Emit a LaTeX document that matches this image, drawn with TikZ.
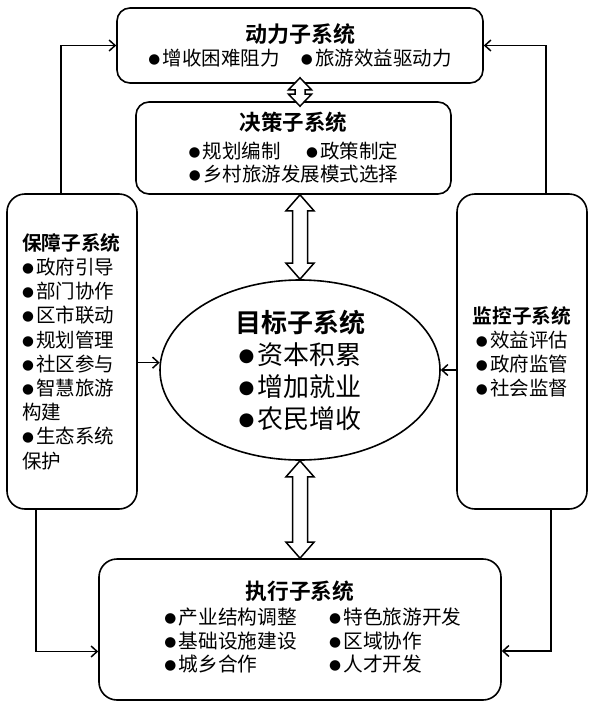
\documentclass[tikz,border=0pt]{standalone}
\usepackage{fontspec}
\setmainfont{Noto Sans CJK SC}[BoldFont={Noto Sans CJK SC Bold}]
\newfontfamily\dotfont{DejaVu Sans}
\usepackage{graphicx}
\usepackage{tikz}
\usetikzlibrary{
  arrows.meta,
  calc,
  shapes.geometric
}
\newcommand{\bul}{\raisebox{0.1em}{\dotfont\scalebox{0.7}{●}}\hspace{0.12em}}
\newcommand{\ttl}[2]{{\bfseries\fontsize{#1}{24}\selectfont #2}}
% hollow two-headed arrow between two points on one vertical
\newcommand{\dblarrow}[5]{%
  \draw[hollow] let \p1=(#1), \p2=(#2) in
    (\x1,\y1) -- (\x1+#4,\y1-#3) -- (\x1+#5,\y1-#3) -- (\x1+#5,\y2+#3)
    -- (\x1+#4,\y2+#3) -- (\x1,\y2) -- (\x1-#4,\y2+#3) -- (\x1-#5,\y2+#3)
    -- (\x1-#5,\y1-#3) -- (\x1-#4,\y1-#3) -- cycle;}

\begin{document}
\begin{tikzpicture}[
  x=1pt,y=-1pt,
  sysbox/.style={draw,line width=1.6pt,rounded corners=13pt,inner sep=0pt,
                 align=center,font=\fontsize{19.5}{23.5}\selectfont},
  sidebox/.style={sysbox,rounded corners=18pt},
  goal/.style={draw,ellipse,line width=1.6pt,inner sep=0pt,minimum width=280pt,
               minimum height=180pt,align=center,font=\fontsize{26}{32}\selectfont},
  arr/.style={-{Straight Barb[length=6pt,width=11pt]},line width=1.5pt},
  hollow/.style={draw,fill=white,line width=1.5pt,line join=miter},
]
\useasboundingbox (0,0) rectangle (593,704);

\node[sysbox,minimum width=366pt,minimum height=75pt] (dl) at (300,45.5)
  {\ttl{22}{动力子系统}\\\bul 增收困难阻力\hspace{1.1em}\bul 旅游效益驱动力};
\node[sysbox,minimum width=315pt,minimum height=92pt] (jc) at (293.5,148)
  {\ttl{21.5}{决策子系统}\\[4pt]\bul 规划编制\hspace{1.3em}\bul 政策制定\\\bul 乡村旅游发展模式选择};
\node[sidebox,minimum width=130pt,minimum height=315pt,align=left,text width=100pt,
      font=\fontsize{19.5}{24.2}\selectfont] (bz) at (72,351.5)
  {\ttl{19.7}{保障子系统}\\\bul 政府引导\\\bul 部门协作\\\bul 区市联动\\\bul 规划管理\\
   \bul 社区参与\\\bul 智慧旅游\\构建\\\bul 生态系统\\保护};
\node[sidebox,minimum width=130pt,minimum height=315pt,
      font=\fontsize{19.5}{24}\selectfont] (jk) at (522,351.5)
  {\ttl{19.7}{监控子系统}\\\bul 效益评估\\\bul 政府监管\\\bul 社会监督};
\node[goal] (mb) at (300,370)
  {\ttl{26}{目标子系统}\\\bul 资本积累\\\bul 增加就业\\\bul 农民增收};
\node[sidebox,minimum width=402pt,minimum height=141pt,
      font=\fontsize{19.7}{22.5}\selectfont] (zx) at (300,629.5)
  {\ttl{21.7}{执行子系统}\\[6pt]\hspace*{26pt}\begin{tabular}{@{}l@{\hspace{32pt}}l@{}}
   \bul 产业结构调整 & \bul 特色旅游开发\\
   \bul 基础设施建设 & \bul 区域协作\\
   \bul 城乡合作     & \bul 人才开发
   \end{tabular}};

\draw[arr] ([xshift=55pt]bz.north west) |- (dl.west);
\draw[arr] ([xshift=-42pt]jk.north east) |- (dl.east);
\draw[arr] ([xshift=30pt]bz.south west) |- ([yshift=-22pt]zx.west);
\draw[arr] ([xshift=-37pt]jk.south east) |- ([yshift=-21.5pt]zx.east);
\draw[arr] (bz.east |- mb.177) -- (mb.177);
\draw[arr] (jk.west |- mb.east) -- (mb.east);

\dblarrow{$(dl.south -| mb.north)+(0,-6)$}{$(jc.north -| mb.north)+(0,5)$}{12pt}{11.5pt}{5pt}
\dblarrow{jc.south -| mb.north}{mb.north}{16pt}{14pt}{7.5pt}
\dblarrow{mb.south}{zx.north -| mb.south}{16pt}{14pt}{7.5pt}
\end{tikzpicture}
\end{document}
